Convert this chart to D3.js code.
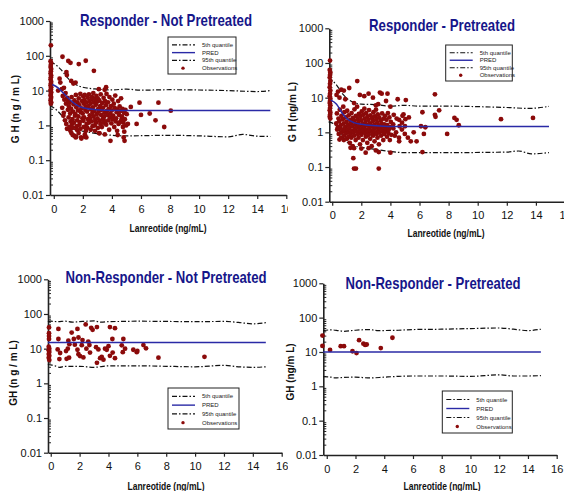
<!DOCTYPE html>
<html>
<head>
<meta charset="utf-8">
<script src="https://cdn.jsdelivr.net/npm/d3@7"></script>
<style>
  body { margin: 0; background: #fff; }
  svg { display: block; }
  .narrow { font-family: "Liberation Sans Narrow", "Arial Narrow", "Liberation Sans", Arial, sans-serif; }
  .tick text { font-family: "Liberation Sans Narrow", "Arial Narrow", "Liberation Sans", Arial, sans-serif; font-size: 11px; fill: #111; }
</style>
</head>
<body>
<div id="chart"></div>
<script>
// ---- data ----
const xTicks = [0, 2, 4, 6, 8, 10, 12, 14, 16];
const yTicks = [0.01, 0.1, 1, 10, 100, 1000];
const legendLabels = ["5th quantile", "PRED", "95th quantile", "Observations"];

const titles = [
  "Responder - Not Pretreated",
  "Responder - Pretreated",
  "Non-Responder - Not Pretreated",
  "Non-Responder - Pretreated"
];
const yLabels = ["G H  (n g / m L)", "G H  (ng/m L)", "GH  (n g / m L)", "GH  (ng/m L)"];
const xLabel = "Lanreotide (ng/mL)";

// Responder - Not Pretreated
const rnpQ95 = [[-0.25,65],[0,60],[0.5,40],[1,22],[1.5,15],[2,12.5],[3,11],[4,10.5],[5,11],[6,10.3],[8,10.6],[10,10.4],[12,10],[14,9.4],[14.9,10]];
const rnpPred = [[-0.1,15],[0.3,12],[0.6,9],[1,6],[1.5,4],[2,3.2],[3,2.8],[4,2.7],[8,2.7],[14.9,2.7]];
const rnpQ05 = [[-0.25,3.8],[0.3,2.5],[0.7,1.6],[1,1.05],[1.5,0.75],[2,0.68],[3,0.58],[4,0.52],[5,0.5],[8,0.52],[10,0.5],[12,0.47],[13,0.55],[14,0.49],[14.9,0.48]];
const rnpObs = [
  [-0.2,200],[-0.22,70],[-0.18,62],[-0.2,55],[-0.22,48],[-0.18,42],[-0.2,36],[-0.22,31],[-0.18,27],[-0.2,24],[-0.22,21],[-0.18,18],[-0.2,16],[-0.22,14],[-0.18,12.5],[-0.2,11],[-0.22,10],[-0.18,9],[-0.2,8],[-0.22,7.2],[-0.18,6.5],[-0.2,5.8],[-0.22,5.2],[-0.18,4.6],[-0.2,4.2],
  [0.6,94],[1.0,71],[1.15,63],[1.72,58],[2.2,72],[2.76,37],[0.87,34],[0.9,28],[0.4,22],[0.45,17],[1.2,19],[1.5,17],[1.35,16],[0.7,12],[0.3,10],[0.55,11],[3.6,12.5],[3.1,11],[3.5,10.5],
  [0.62,7],[0.58,3.2],[0.66,1.9],[0.73,5.5],[0.69,2.3],[0.77,1.4],[0.84,4.2],[0.81,8.5],[0.86,1.1],[0.93,6.2],[0.97,2.8],[0.91,0.8],
  [1.04,3.5],[1.02,1.7],[1.08,0.9],[0.99,5],[1.13,2.2],[1.16,1.3],[1.09,4.5],[1.14,0.7],[1.23,6.5],[1.19,3],[1.26,1.1],[1.21,0.6],
  [1.33,2.5],[1.29,1.5],[1.36,4],[1.31,0.85],[1.42,5.2],[1.46,1.9],[1.38,1.2],[1.44,0.5],[1.52,7.5],[1.55,3.3],[1.49,2.1],[1.57,0.95],[1.51,0.45],
  [1.63,4.6],[1.61,1.4],[1.67,2.7],[1.59,0.75],[1.72,6],[1.75,3.8],[1.69,1.8],[1.77,1.05],[1.71,0.6],[1.83,8],[1.86,2.4],[1.79,1.25],[1.84,0.8],
  [1.94,5],[1.91,3.1],[1.97,1.6],[1.88,0.45],[2.03,6.8],[2.06,4.2],[1.99,2.2],[2.04,1.35],[2.08,0.9],[2.13,7.5],[2.11,5.3],[2.17,2.8],[2.09,1.7],[2.14,0.55],
  [2.22,4.5],[2.19,3.4],[2.26,1.1],[2.21,0.7],[2.24,0.45],[2.33,6.3],[2.29,2.5],[2.36,1.5],[2.31,0.85],[2.42,7.8],[2.45,5],[2.39,3.6],[2.47,1.95],[2.41,1.2],
  [2.53,4.2],[2.56,2.9],[2.49,1.6],[2.54,0.75],[2.63,6.5],[2.59,5.6],[2.66,2.3],[2.61,1.3],[2.67,0.95],[2.72,8.5],[2.76,4.6],[2.69,3.3],[2.74,1.8],
  [2.83,5.8],[2.79,2.6],[2.86,1.45],[2.81,1.0],[2.84,0.7],[2.93,7],[2.89,3.9],[2.96,2.1],[2.91,1.2],[3.03,6],[2.99,4.8],[3.06,3],[3.01,1.6],[3.04,0.85],
  [3.13,5.2],[3.09,2.5],[3.16,1.35],[3.11,0.6],[3.23,7.8],[3.19,3.6],[3.26,2],[3.21,1.1],[3.33,4.4],[3.29,2.8],[3.36,1.5],[3.31,0.9],
  [3.43,6.2],[3.39,3.2],[3.46,1.75],[3.41,1.2],[3.53,5],[3.49,2.3],[3.56,1.3],[3.51,0.55],[3.63,8],[3.59,3.8],[3.66,2.6],[3.61,1.05],
  [3.73,4.6],[3.69,2],[3.76,1.4],[3.83,6.5],[3.79,3],[3.86,1.7],[3.81,0.75],[3.93,3.6],[3.89,2.2],[3.96,1.15],[3.9,0.36],
  [4.03,5.5],[3.99,2.7],[4.06,1.5],[4.13,4.2],[4.09,1.9],[4.16,0.9],[4.23,7.2],[4.19,3.2],[4.26,1.3],[4.33,2.4],[4.29,1.6],[4.36,0.7],
  [4.43,5],[4.39,2.9],[4.46,1.1],[4.4,0.53],[4.53,3.5],[4.49,2],[4.56,1.25],[4.63,6],[4.59,2.6],[4.66,1.5],[4.73,3],[4.69,1.8],[4.76,0.9],
  [4.83,2.3],[4.79,1.2],[4.85,0.66],[4.81,0.45],[4.93,2.8],[4.89,1.5],[4.87,0.36],[5.02,2.1],[4.98,1.0],
  [5.1,1.1],[5.3,3.4],[5.9,4.5],[6.0,2.0],[6.6,2.2],[7.0,1.4],[7.2,4.5],[7.6,0.9],[8.05,2.65],[5.7,1.1],
  [1.3,0.53],[1.54,0.47],[1.9,0.42],[2.16,0.47],[3.15,0.59]
];

// Responder - Pretreated
const rpQ95 = [[-0.25,38],[0.3,23],[0.7,13],[1,9.6],[1.5,7.3],[2,6.5],[3,6.3],[4,5.7],[5,6],[6,5.7],[8,5.7],[10,5.5],[12,5.2],[13.5,4.9],[14.9,5.6]];
const rpPred = [[-0.1,8.5],[0.3,6.5],[0.7,3.5],[1,2.5],[1.5,1.9],[2,1.7],[3,1.55],[4,1.48],[8,1.48],[14.9,1.48]];
const rpQ05 = [[-0.25,2.0],[0.3,1.5],[0.6,0.93],[1,0.54],[1.5,0.41],[2,0.37],[3,0.32],[4,0.28],[5,0.26],[8,0.26],[12,0.27],[12.8,0.29],[13.7,0.24],[14.9,0.26]];
const rpObs = [
  [-0.15,117],[-0.17,63],[-0.13,53],[-0.15,45],[-0.17,38],[-0.13,30],[-0.15,25],[-0.17,20],[-0.13,16],[-0.15,13],[-0.17,11],[-0.13,9.5],[-0.15,8],[-0.17,7],[-0.13,6],[-0.15,5],[-0.17,4.3],[-0.13,3.7],[-0.15,3.2],[-0.17,2.8],[-0.13,2.5],
  [1.72,30],[0.62,17],[0.4,15],[1.17,19],[0.8,16],[0.3,12],[0.5,10],[0.9,9],[1.9,12],[2.5,13],[3.28,14],[3.4,13],[3.8,13],[3.7,8],[3.16,6.5],[4.5,9],[5.06,8.5],[2.2,11],[1.5,7],[2.8,10],[7.06,12.5],[3.0,6],[4.0,5.5],
  [11.6,2.4],[13.8,2.6],[8.4,2.6],[8.55,2.3],[8.7,1.6],[7.9,0.9],[7.35,4.3],[7.06,3.2],[7.1,2.8],[6.3,0.9],[6.1,1.5],[6.2,0.27],[5.27,2.7],[6.2,3.8],[5.6,1.0],[5.8,0.55],[5.4,0.55],[6.4,1.4],[4.9,3.3],[4.8,1.9],[5.0,1.5],[4.6,2.3],[5.2,0.7],[4.3,0.8],[4.6,0.55],[4.2,1.3],
  [1.45,0.18],[1.5,0.09],[1.63,0.09],[3.2,0.09],[1.26,0.36],[1.5,0.35],[2.0,0.34],[2.5,0.35],[3.0,0.3],[2.3,0.26],[3.2,0.27],[0.5,0.62],[0.8,0.6],[4.0,0.26],
  [0.32,3.5],[0.28,1.8],[0.34,1.2],[0.43,2.5],[0.39,1.4],[0.45,0.9],[0.52,4.5],[0.48,2.1],[0.55,1.3],[0.63,3],[0.59,1.6],[0.66,1.0],[0.61,0.7],
  [0.73,2.4],[0.69,1.2],[0.76,5.5],[0.83,3.8],[0.79,1.8],[0.86,1.1],[0.81,0.8],[0.93,2.7],[0.89,1.4],[0.96,0.95],
  [1.03,4.2],[0.99,2],[1.06,1.2],[1.01,0.65],[1.13,3.1],[1.09,1.6],[1.16,1.0],[1.11,0.75],[1.23,2.3],[1.19,1.35],[1.26,0.9],[1.21,0.5],
  [1.33,3.6],[1.29,1.8],[1.36,1.1],[1.31,0.7],[1.43,2.6],[1.39,1.5],[1.46,1.0],[1.41,0.4],[1.53,4.6],[1.49,2.1],[1.56,1.25],[1.51,0.8],
  [1.63,3],[1.59,1.7],[1.66,1.05],[1.61,0.6],[1.73,2.4],[1.69,1.4],[1.76,0.9],[1.71,5.5],[1.83,3.4],[1.79,1.9],[1.86,1.15],[1.81,0.7],
  [1.93,2.8],[1.89,1.55],[1.96,1.0],[1.91,0.45],[2.03,4],[1.99,2.2],[2.06,1.3],[2.01,0.85],[2.13,3.2],[2.09,1.75],[2.16,1.1],[2.11,0.6],
  [2.23,2.5],[2.19,1.45],[2.26,0.95],[2.21,4.8],[2.33,3.6],[2.29,2],[2.36,1.2],[2.31,0.75],[2.43,2.9],[2.39,1.6],[2.46,1.05],[2.41,0.5],
  [2.53,4.4],[2.49,2.3],[2.56,1.35],[2.51,0.85],[2.63,3.1],[2.59,1.8],[2.66,1.1],[2.61,0.65],[2.73,2.6],[2.69,1.5],[2.76,0.95],[2.71,0.4],
  [2.83,3.8],[2.79,2.1],[2.86,1.25],[2.81,0.8],[2.93,2.9],[2.89,1.65],[2.96,1.0],[2.91,0.55],[3.03,2.4],[2.99,1.4],[3.06,0.9],[3.01,4.5],
  [3.13,3.3],[3.09,1.9],[3.16,1.15],[3.11,0.7],[3.23,2.7],[3.19,1.55],[3.26,1.0],[3.21,0.45],[3.33,2.2],[3.29,1.3],[3.36,0.8],
  [3.43,3.5],[3.39,1.8],[3.46,1.1],[3.53,2.5],[3.49,1.45],[3.56,0.9],[3.51,0.6],[3.63,3],[3.59,1.7],[3.66,1.05],[3.73,2.3],[3.69,1.3],[3.76,0.75],
  [3.83,3.6],[3.79,1.6],[3.86,0.95],[3.93,2.7],[3.89,1.2],[3.96,0.6],[4.03,2],[3.99,1.4],[4.06,0.85],[4.23,3.2],[4.19,1.7],
  [4.43,2.5],[4.39,1.0],[4.63,1.5],[4.59,0.7],[4.83,3],[4.79,1.2],[5.03,2.4],[4.99,0.9]
];

// Non-Responder - Not Pretreated
const nrnpQ95 = [[-0.2,60],[0,62],[0.5,60],[1,62],[1.5,58],[2,60],[3,63],[3.5,58],[4,60],[5,61],[6,62],[8,61],[10,60],[12,61],[13,57],[14,52],[14.9,56]];
const nrnpPred = [[-0.2,15],[14.9,15]];
const nrnpQ05 = [[-0.2,3.5],[0,3.4],[0.3,3.2],[0.6,2.9],[1,3.1],[2,3.1],[3,2.9],[4,3.2],[5,3.2],[6,3.2],[8,3.1],[10,3.0],[12,3.3],[13,3.0],[14,2.9],[14.9,3.0]];
const nrnpObs = [
  [-0.12,41],[-0.12,28],[-0.12,23],[-0.12,19],[-0.14,11.4],[-0.1,10],[-0.14,9],[-0.1,8],[-0.14,7],[-0.1,6.2],[-0.14,5.5],[-0.1,4.7],
  [0.53,37],[0.53,19],[0.48,9.5],[0.65,7.5],[0.6,5.0],[1.06,8.5],[1.18,10],[1.22,17],[1.1,5.1],[1.27,5.5],[1.29,13.5],
  [1.45,29],[1.6,19],[1.67,13],[1.85,37],[1.92,21],[1.85,9.3],[1.92,6.9],[2.03,6.1],[2.15,12.6],[2.2,17.7],[2.26,5.6],[2.42,50],
  [2.47,10],[2.6,16],[2.68,12.7],[2.72,7.7],[2.8,40],[2.9,35],[3.2,42],[3.14,11],[3.2,3.9],[3.3,9.5],[3.42,5.3],[3.53,5.8],
  [3.65,4.8],[3.76,10],[3.88,9.3],[4.0,11.8],[4.1,42],[4.27,19],[4.45,39],[4.1,6.2],[4.29,7.7],[4.45,5.3],[4.92,12.5],[5.03,19],
  [4.99,7.9],[5.15,10],[5.72,9.3],[5.96,7.9],[6.0,8.6],[6.42,12.7],[6.6,10.2],[7.46,5.5],[10.65,5.8]
];

// Non-Responder - Pretreated
const nrpQ95 = [[-0.25,42],[0.3,44],[0.8,42],[1.2,40],[2,43],[3,45],[3.5,42],[5,43],[6,45],[8,46],[10,48],[12,50],[13,46],[14,42],[14.9,46]];
const nrpPred = [[-0.25,10],[14.9,10]];
const nrpQ05 = [[-0.25,1.9],[0.3,1.85],[0.6,1.75],[1,1.8],[2,1.85],[3,1.75],[4,1.85],[5,1.95],[6,2.0],[8,2.0],[10,1.95],[12,2.15],[13,2.0],[14,2.0],[14.9,2.05]];
const nrpObs = [[-0.3,30],[-0.3,15],[0.23,11.5],[0.97,14.8],[1.2,14.8],[1.79,10.5],[2.07,9.3],[2.25,22],[2.55,17.5],[2.67,16],[2.78,16.5],[3.76,13],[4.57,26]];

// ---- layout ----
const W = 564, H = 491;
const panels = [
  { title: titles[0], ylab: yLabels[0], obs: rnpObs, q95: rnpQ95, pred: rnpPred, q05: rnpQ05,
    x0: 50, x1: 286.3, xmin: -0.26, y0: 195, y1: 21, titleX: 166, titleY: 25.5, titleW: 172,
    ylx: 19, yly: 109, xlx: 168, xly: 232, leg: [168, 37, 68, 37] },
  { title: titles[1], ylab: yLabels[1], obs: rpObs, q95: rpQ95, pred: rpPred, q05: rpQ05,
    x0: 329.3, x1: 565, xmin: -0.2, y0: 201.7, y1: 28.3, titleX: 442, titleY: 30.5, titleW: 146,
    ylx: 296, yly: 112, xlx: 446, xly: 237, leg: [445.7, 45, 66.6, 36] },
  { title: titles[2], ylab: yLabels[2], obs: nrnpObs, q95: nrnpQ95, pred: nrnpPred, q05: nrnpQ05,
    x0: 48, x1: 281.7, xmin: -0.19, y0: 452.7, y1: 279.3, titleX: 166, titleY: 283.3, titleW: 201,
    ylx: 17, yly: 373, xlx: 166, xly: 490, leg: [168, 388, 71, 41] },
  { title: titles[3], ylab: yLabels[3], obs: nrpObs, q95: nrpQ95, pred: nrpPred, q05: nrpQ05,
    x0: 323.3, x1: 556.7, xmin: -0.24, y0: 455, y1: 283.3, titleX: 433, titleY: 289.3, titleW: 175,
    ylx: 294, yly: 372, xlx: 442, xly: 490, leg: [442.3, 391, 70, 42] }
];

const navy = "#16168a";
const predBlue = "#2a2aa6";
const obsRed = "#8b0a0a";
const qDash = "5,2,1.5,2";

const svg = d3.select("#chart").append("svg")
  .attr("width", W)
  .attr("height", H);

svg.append("rect").attr("width", W).attr("height", H).attr("fill", "#fff");

panels.forEach(function(p, i) {
  const g = svg.append("g");

  // right-hand panels sit on top of the left ones
  if (i % 2 === 1) {
    g.append("rect")
      .attr("x", 288).attr("y", i === 1 ? 0 : 246)
      .attr("width", W - 288).attr("height", 245)
      .attr("fill", "#fff");
  }

  const xScale = d3.scaleLinear()
    .domain([p.xmin, 16])
    .range([p.x0, p.x1]);

  const yScale = d3.scaleLog()
    .domain([0.01, 1000])
    .range([p.y0, p.y1]);

  // y axis: major ticks outside, minor ticks inside
  const minor = [];
  [0.01, 0.1, 1, 10, 100].forEach(function(d) {
    for (let k = 2; k <= 9; k++) minor.push(d * k);
  });
  g.append("g")
    .attr("transform", "translate(" + p.x0 + ",0)")
    .call(d3.axisRight(yScale).tickValues(minor).tickSize(3).tickSizeOuter(0).tickFormat(""))
    .call(function(a) { a.select(".domain").remove(); a.selectAll("line").attr("stroke", "#222"); });

  g.append("g")
    .attr("transform", "translate(" + p.x0 + ",0)")
    .call(d3.axisLeft(yScale).tickValues(yTicks).tickSize(4).tickSizeOuter(0).tickPadding(2).tickFormat(d3.format("~g")))
    .call(function(a) {
      a.select(".domain").attr("stroke", "#222").attr("stroke-width", 1.6);
      a.selectAll("line").attr("stroke", "#222").attr("stroke-width", 1.2);
    });

  // x axis
  g.append("g")
    .attr("transform", "translate(0," + p.y0 + ")")
    .call(d3.axisBottom(xScale).tickValues(xTicks).tickSize(4).tickSizeOuter(0).tickPadding(6))
    .call(function(a) {
      a.select(".domain").attr("stroke", "#222").attr("stroke-width", 1.6);
      a.selectAll("line").attr("stroke", "#222").attr("stroke-width", 1.2);
    });

  const line = d3.line()
    .x(function(d) { return xScale(d[0]); })
    .y(function(d) { return yScale(d[1]); })
    .curve(d3.curveMonotoneX);

  g.append("path").datum(p.q95)
    .attr("d", line).attr("fill", "none")
    .attr("stroke", "#111").attr("stroke-width", 1.2).attr("stroke-dasharray", qDash);
  g.append("path").datum(p.q05)
    .attr("d", line).attr("fill", "none")
    .attr("stroke", "#111").attr("stroke-width", 1.2).attr("stroke-dasharray", qDash);

  g.selectAll("circle.obs")
    .data(p.obs)
    .enter()
    .append("circle")
    .attr("class", "obs")
    .attr("cx", function(d) { return xScale(d[0]); })
    .attr("cy", function(d) { return yScale(d[1]); })
    .attr("r", 2.4)
    .attr("fill", obsRed);

  g.append("path").datum(p.pred)
    .attr("d", line).attr("fill", "none")
    .attr("stroke", predBlue).attr("stroke-width", 1.5);

  // title
  g.append("text")
    .attr("class", "narrow")
    .attr("x", p.titleX).attr("y", p.titleY)
    .attr("text-anchor", "middle")
    .attr("font-size", 17).attr("font-weight", "bold")
    .attr("fill", navy)
    .attr("textLength", p.titleW).attr("lengthAdjust", "spacingAndGlyphs")
    .text(p.title);

  // axis labels
  g.append("text")
    .attr("x", p.xlx).attr("y", p.xly)
    .attr("text-anchor", "middle")
    .attr("font-family", "Liberation Sans, Arial, sans-serif")
    .attr("font-size", 10).attr("font-weight", "bold")
    .attr("textLength", 77).attr("lengthAdjust", "spacingAndGlyphs")
    .attr("fill", "#111")
    .text(xLabel);

  g.append("text")
    .attr("transform", "translate(" + p.ylx + "," + p.yly + ") rotate(-90)")
    .attr("text-anchor", "middle")
    .attr("font-family", "Liberation Sans, Arial, sans-serif")
    .attr("font-size", 10).attr("font-weight", "bold")
    .attr("fill", "#111")
    .text(p.ylab);

  // legend
  const lg = g.append("g").attr("transform", "translate(" + p.leg[0] + "," + p.leg[1] + ")");
  lg.append("rect")
    .attr("width", p.leg[2]).attr("height", p.leg[3])
    .attr("fill", "#fff").attr("stroke", "#222").attr("stroke-width", 1);
  const rowH = (p.leg[3] - 6) / 4;
  legendLabels.forEach(function(lab, j) {
    const yy = 4 + rowH * (j + 0.5);
    if (j === 3) {
      lg.append("circle").attr("cx", 15).attr("cy", yy).attr("r", 1.7).attr("fill", obsRed);
    } else {
      lg.append("line")
        .attr("x1", 4).attr("x2", 27).attr("y1", yy).attr("y2", yy)
        .attr("stroke", j === 1 ? predBlue : "#111")
        .attr("stroke-width", j === 1 ? 1.4 : 1.1)
        .attr("stroke-dasharray", j === 1 ? null : qDash);
    }
    lg.append("text")
      .attr("class", "narrow")
      .attr("x", 34).attr("y", yy + 2)
      .attr("font-size", 6)
      .attr("fill", "#222")
      .text(lab);
  });
});
</script>
</body>
</html>
